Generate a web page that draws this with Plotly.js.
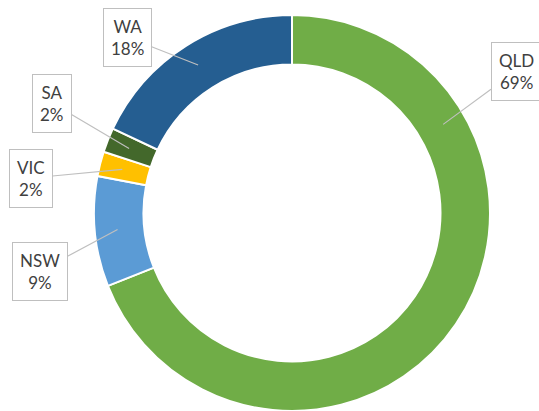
<!DOCTYPE html>
<html>
<head>
<meta charset="utf-8">
<script src="https://cdn.plot.ly/plotly-3.0.1.min.js"></script>
<style>html,body{margin:0;padding:0;background:#fff;}#chart{width:539px;height:411px;}</style>
</head>
<body>
<div id="chart"></div>
<script>
// Data (clockwise from 12 o'clock)
const states = ['QLD', 'NSW', 'VIC', 'SA', 'WA'];
const shares = [69, 9, 2, 2, 18];
const colors = ['#70AD47', '#5B9BD5', '#FFC000', '#43682B', '#255E91'];

// Label layout (pixel centres of callout boxes, where along the slice the pointer lands)
const boxCenters = [[516, 71], [40, 271], [31, 178], [52, 103], [127, 37]];
const pointerAlong = [0.24, 0.5, 0.5, 0.5, 0.5];

const W = 539, H = 411, mT = 15, mB = 0;
const plotH = H - mT - mB;
const cx = 292, cy = mT + plotH / 2, R = plotH / 2;
const domX = [(cx - R) / W, (cx + R) / W];

const total = shares.reduce((a, b) => a + b, 0);
let cum = 0;
const annotations = states.map((s, i) => {
  const f = (cum + shares[i] * pointerAlong[i]) / total;
  cum += shares[i];
  const th = 2 * Math.PI * f;
  const rr = R * 0.885;
  const tx = cx + rr * Math.sin(th);
  const ty = cy - rr * Math.cos(th);
  return {
    xref: 'paper', yref: 'paper',
    x: tx / W, y: (H - mB - ty) / plotH,
    ax: boxCenters[i][0] - tx, ay: boxCenters[i][1] - ty,
    text: s + '<br>' + Math.round(shares[i] / total * 100) + '%',
    showarrow: true, arrowhead: 0, arrowwidth: 1.2, arrowcolor: '#BFBFBF',
    bordercolor: '#BFBFBF', borderwidth: 1, borderpad: 7, bgcolor: '#FFFFFF',
    font: {family: 'Lato, "Open Sans", sans-serif', size: 17, color: '#404040'},
    align: 'center'
  };
});

const trace = {
  type: 'pie',
  labels: states,
  values: shares,
  sort: false,
  direction: 'clockwise',
  rotation: 0,
  hole: 0.75,
  textinfo: 'none',
  hoverinfo: 'label+percent',
  marker: {colors: colors, line: {color: '#FFFFFF', width: 2}},
  domain: {x: domX, y: [0, 1]}
};

Plotly.newPlot('chart', [trace], {
  width: W, height: H,
  margin: {l: 0, r: 0, t: mT, b: mB},
  showlegend: false,
  paper_bgcolor: '#FFFFFF',
  annotations: annotations
}, {displayModeBar: false, staticPlot: true});
</script>
</body>
</html>
